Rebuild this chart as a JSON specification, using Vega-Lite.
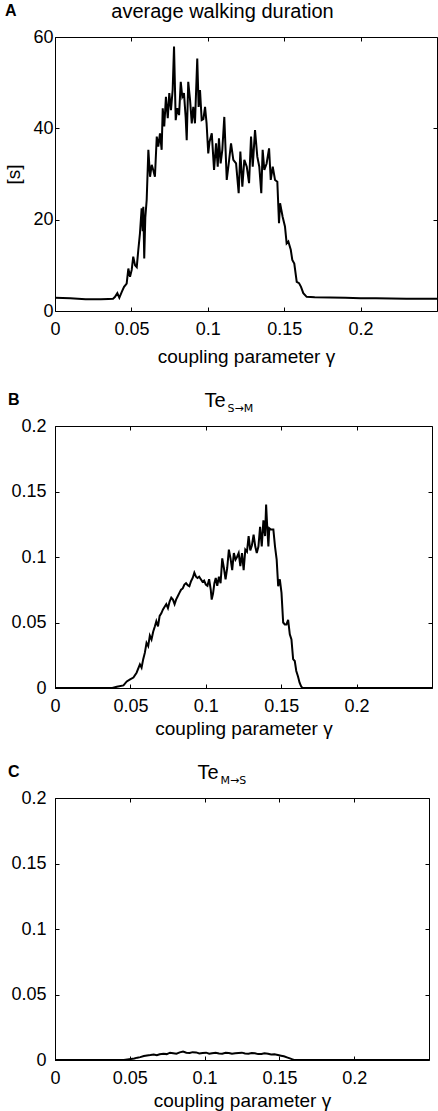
{
  "$schema": "https://vega.github.io/schema/vega-lite/v6.json",
  "padding": {"left": 4, "top": 0, "right": 0, "bottom": 0},
  "columns": 1,
  "align": "none",
  "spacing": 22,
  "datasets": {
    "walk": [
      {"g":0,"v":2.9},{"g":0.005,"v":2.85},{"g":0.01,"v":2.8},{"g":0.015,"v":2.7},{"g":0.02,"v":2.6},{"g":0.025,"v":2.6},{"g":0.03,"v":2.6},{"g":0.035,"v":2.65},{"g":0.038,"v":2.7},
      {"g":0.0393,"v":3.1},{"g":0.0408,"v":3.9},{"g":0.0421,"v":2.9},{"g":0.0437,"v":4.2},{"g":0.0452,"v":5.3},{"g":0.0469,"v":6.0},{"g":0.048,"v":9.3},{"g":0.0491,"v":7.5},{"g":0.0502,"v":9.0},{"g":0.0512,"v":11.9},{"g":0.0524,"v":10.0},{"g":0.0535,"v":9.6},{"g":0.0545,"v":13.3},{"g":0.0556,"v":17.0},{"g":0.0567,"v":22.5},{"g":0.0574,"v":17.5},{"g":0.0578,"v":22.8},{"g":0.0584,"v":11.5},{"g":0.0591,"v":20.5},{"g":0.06,"v":24.3},{"g":0.0611,"v":35.3},{"g":0.0622,"v":29.4},{"g":0.0633,"v":32.0},{"g":0.0643,"v":30.9},{"g":0.0654,"v":29.4},{"g":0.0666,"v":38.2},{"g":0.0676,"v":36.0},{"g":0.0687,"v":38.9},{"g":0.0698,"v":35.3},{"g":0.0705,"v":44.4},{"g":0.0715,"v":40.4},{"g":0.0726,"v":46.9},{"g":0.0738,"v":42.2},{"g":0.0748,"v":47.7},{"g":0.0759,"v":44.0},{"g":0.077,"v":48.4},{"g":0.0779,"v":57.9},{"g":0.079,"v":41.8},{"g":0.08,"v":44.4},{"g":0.0812,"v":42.9},{"g":0.0823,"v":50.2},{"g":0.0833,"v":46.9},{"g":0.0844,"v":47.7},{"g":0.0855,"v":42.5},{"g":0.0862,"v":37.4},{"g":0.0872,"v":50.2},{"g":0.0884,"v":46.2},{"g":0.0895,"v":41.1},{"g":0.0905,"v":44.7},{"g":0.0916,"v":41.1},{"g":0.0931,"v":55.3},{"g":0.094,"v":44.7},{"g":0.0949,"v":48.4},{"g":0.096,"v":41.8},{"g":0.0971,"v":42.0},{"g":0.0982,"v":44.7},{"g":0.0992,"v":41.1},{"g":0.1003,"v":34.5},{"g":0.1011,"v":37.0},{"g":0.1026,"v":38.9},{"g":0.1041,"v":30.9},{"g":0.1054,"v":36.7},{"g":0.1065,"v":31.6},{"g":0.1073,"v":37.8},{"g":0.1084,"v":32.3},{"g":0.1095,"v":35.3},{"g":0.1108,"v":42.5},{"g":0.1124,"v":28.7},{"g":0.1137,"v":32.3},{"g":0.1152,"v":36.7},{"g":0.1167,"v":33.1},{"g":0.1185,"v":32.3},{"g":0.1202,"v":25.8},{"g":0.1213,"v":34.9},{"g":0.1226,"v":27.2},{"g":0.1239,"v":33.1},{"g":0.1255,"v":31.6},{"g":0.127,"v":28.0},{"g":0.1283,"v":38.2},{"g":0.1294,"v":31.6},{"g":0.1309,"v":39.6},{"g":0.1324,"v":33.8},{"g":0.1337,"v":31.6},{"g":0.135,"v":25.8},{"g":0.1359,"v":35.3},{"g":0.137,"v":30.9},{"g":0.1385,"v":32.3},{"g":0.1401,"v":35.6},{"g":0.1412,"v":28.7},{"g":0.1425,"v":31.6},{"g":0.144,"v":28.7},{"g":0.1455,"v":28.3},{"g":0.1466,"v":19.2},{"g":0.1473,"v":23.6},{"g":0.149,"v":20.6},{"g":0.1505,"v":18.5},{"g":0.1516,"v":14.8},{"g":0.1527,"v":15.2},{"g":0.1543,"v":13.4},{"g":0.1553,"v":11.2},{"g":0.1566,"v":10.4},{"g":0.1582,"v":6.4},{"g":0.1597,"v":6.1},{"g":0.161,"v":5.3},{"g":0.1625,"v":3.9},{"g":0.1647,"v":3.1},
      {"g":0.17,"v":3.0},{"g":0.18,"v":2.95},{"g":0.19,"v":2.9},{"g":0.2,"v":2.8},{"g":0.21,"v":2.8},{"g":0.22,"v":2.75},{"g":0.23,"v":2.7},{"g":0.24,"v":2.7},{"g":0.25,"v":2.7}
    ],
    "sm": [
      {"g":0,"v":0},{"g":0.038,"v":0},{"g":0.041,"v":0.001},{"g":0.0454,"v":0.002},{"g":0.0476,"v":0.005},{"g":0.0498,"v":0.0066},{"g":0.052,"v":0.008},{"g":0.0541,"v":0.0117},{"g":0.0563,"v":0.018},{"g":0.0574,"v":0.0155},{"g":0.0585,"v":0.022},{"g":0.0596,"v":0.027},{"g":0.0607,"v":0.0345},{"g":0.0618,"v":0.032},{"g":0.0629,"v":0.04},{"g":0.064,"v":0.037},{"g":0.0651,"v":0.043},{"g":0.0662,"v":0.047},{"g":0.0672,"v":0.051},{"g":0.0683,"v":0.047},{"g":0.0694,"v":0.055},{"g":0.0705,"v":0.057},{"g":0.0716,"v":0.06},{"g":0.0727,"v":0.062},{"g":0.0738,"v":0.064},{"g":0.0749,"v":0.061},{"g":0.076,"v":0.066},{"g":0.0771,"v":0.069},{"g":0.0782,"v":0.0675},{"g":0.0793,"v":0.064},{"g":0.0803,"v":0.0675},{"g":0.0814,"v":0.07},{"g":0.0825,"v":0.0726},{"g":0.0836,"v":0.075},{"g":0.0847,"v":0.076},{"g":0.0858,"v":0.079},{"g":0.0869,"v":0.08},{"g":0.088,"v":0.0785},{"g":0.0891,"v":0.0777},{"g":0.0902,"v":0.0815},{"g":0.0913,"v":0.084},{"g":0.0924,"v":0.088},{"g":0.0935,"v":0.085},{"g":0.0945,"v":0.084},{"g":0.0956,"v":0.085},{"g":0.0967,"v":0.083},{"g":0.0978,"v":0.081},{"g":0.0989,"v":0.082},{"g":0.1,"v":0.079},{"g":0.1011,"v":0.078},{"g":0.1022,"v":0.083},{"g":0.1033,"v":0.075},{"g":0.1039,"v":0.0675},{"g":0.1048,"v":0.072},{"g":0.1057,"v":0.08},{"g":0.1066,"v":0.084},{"g":0.1076,"v":0.078},{"g":0.1087,"v":0.085},{"g":0.1098,"v":0.08},{"g":0.1109,"v":0.099},{"g":0.112,"v":0.0916},{"g":0.1131,"v":0.083},{"g":0.1142,"v":0.0916},{"g":0.1153,"v":0.1056},{"g":0.1164,"v":0.099},{"g":0.1175,"v":0.09},{"g":0.1186,"v":0.103},{"g":0.1197,"v":0.098},{"g":0.1207,"v":0.1},{"g":0.1218,"v":0.103},{"g":0.1229,"v":0.093},{"g":0.124,"v":0.103},{"g":0.1251,"v":0.09},{"g":0.1262,"v":0.1056},{"g":0.1273,"v":0.104},{"g":0.1284,"v":0.116},{"g":0.1295,"v":0.105},{"g":0.1306,"v":0.109},{"g":0.1317,"v":0.117},{"g":0.1328,"v":0.108},{"g":0.1338,"v":0.103},{"g":0.1349,"v":0.108},{"g":0.136,"v":0.123},{"g":0.1371,"v":0.108},{"g":0.1382,"v":0.128},{"g":0.1393,"v":0.116},{"g":0.14,"v":0.14},{"g":0.1406,"v":0.126},{"g":0.1415,"v":0.108},{"g":0.1421,"v":0.122},{"g":0.1432,"v":0.121},{"g":0.1448,"v":0.121},{"g":0.1459,"v":0.108},{"g":0.147,"v":0.098},{"g":0.148,"v":0.0777},{"g":0.1491,"v":0.083},{"g":0.1502,"v":0.0726},{"g":0.1513,"v":0.05},{"g":0.1524,"v":0.0485},{"g":0.1535,"v":0.0485},{"g":0.1546,"v":0.052},{"g":0.1557,"v":0.041},{"g":0.1568,"v":0.037},{"g":0.1579,"v":0.022},{"g":0.159,"v":0.0206},{"g":0.16,"v":0.013},{"g":0.1611,"v":0.009},{"g":0.1622,"v":0.004},{"g":0.1633,"v":0.001},{"g":0.1644,"v":0},{"g":0.25,"v":0}
    ],
    "ms": [
      {"g":0,"v":0},{"g":0.046,"v":0},{"g":0.0507,"v":0.0008},{"g":0.053,"v":0.0012},{"g":0.055,"v":0.0018},{"g":0.057,"v":0.0022},{"g":0.0594,"v":0.003},{"g":0.0615,"v":0.0035},{"g":0.0638,"v":0.0038},{"g":0.066,"v":0.0042},{"g":0.0681,"v":0.0036},{"g":0.07,"v":0.0044},{"g":0.0725,"v":0.0048},{"g":0.0747,"v":0.0045},{"g":0.0769,"v":0.0056},{"g":0.079,"v":0.0052},{"g":0.0812,"v":0.0048},{"g":0.0834,"v":0.0058},{"g":0.0856,"v":0.0064},{"g":0.0878,"v":0.0055},{"g":0.09,"v":0.0053},{"g":0.092,"v":0.006},{"g":0.0943,"v":0.0058},{"g":0.0965,"v":0.005},{"g":0.0987,"v":0.0053},{"g":0.101,"v":0.0056},{"g":0.1031,"v":0.0048},{"g":0.105,"v":0.0052},{"g":0.1074,"v":0.0056},{"g":0.1096,"v":0.0049},{"g":0.1118,"v":0.0048},{"g":0.114,"v":0.0055},{"g":0.1162,"v":0.0053},{"g":0.1183,"v":0.0047},{"g":0.1205,"v":0.0051},{"g":0.1227,"v":0.0054},{"g":0.1249,"v":0.0056},{"g":0.127,"v":0.0049},{"g":0.1293,"v":0.0048},{"g":0.1315,"v":0.0053},{"g":0.1336,"v":0.0051},{"g":0.1358,"v":0.0045},{"g":0.138,"v":0.0046},{"g":0.14,"v":0.0051},{"g":0.1424,"v":0.0048},{"g":0.1445,"v":0.0042},{"g":0.1467,"v":0.0043},{"g":0.149,"v":0.0038},{"g":0.1511,"v":0.0033},{"g":0.153,"v":0.0028},{"g":0.1555,"v":0.0018},{"g":0.157,"v":0.0012},{"g":0.1587,"v":0.0005},{"g":0.1598,"v":0},{"g":0.25,"v":0}
    ]
  },
  "concat": [
    {
      "width": 382, "height": 274,
      "title": {"text": "A", "anchor": "start", "frame": "bounds", "dy": 22},
      "layer": [
        {
          "data": {"name": "walk"},
          "mark": {"type": "line", "color": "#000", "strokeWidth": 2},
          "encoding": {
            "x": {"field": "g", "type": "quantitative", "scale": {"domain": [0, 0.25], "nice": false, "zero": false},
                  "axis": {"orient": "bottom", "values": [0, 0.05, 0.1, 0.15, 0.2], "format": "~g", "title": "coupling parameter γ", "titlePadding": 9}},
            "y": {"field": "v", "type": "quantitative", "scale": {"domain": [0, 60], "nice": false},
                  "axis": {"orient": "left", "values": [0, 20, 40, 60], "title": "[s]", "labelPadding": 6, "titlePadding": 9}}
          }
        },
        {
          "data": {"name": "walk"},
          "mark": {"type": "line", "color": "#000", "strokeOpacity": 0},
          "encoding": {
            "x": {"field": "g", "type": "quantitative", "scale": {"domain": [0, 0.25], "nice": false, "zero": false},
                  "axis": {"orient": "top", "labels": false, "values": [0, 0.05, 0.1, 0.15, 0.2], "title": "average walking duration",
                           "titleX": 167, "titleY": -20, "titleAlign": "center", "titleBaseline": "alphabetic", "titleFontSize": 20}},
            "y": {"field": "v", "type": "quantitative", "scale": {"domain": [0, 60], "nice": false},
                  "axis": {"orient": "right", "labels": false, "values": [0, 20, 40, 60], "title": null}}
          }
        }
      ],
      "resolve": {"axis": {"x": "independent", "y": "independent"}}
    },
    {
      "width": 377, "height": 262,
      "title": {"text": "B", "anchor": "start", "frame": "bounds", "dy": 22, "dx": -3},
      "layer": [
        {
          "data": {"name": "sm"},
          "mark": {"type": "line", "color": "#000", "strokeWidth": 2},
          "encoding": {
            "x": {"field": "g", "type": "quantitative", "scale": {"domain": [0, 0.25], "nice": false, "zero": false},
                  "axis": {"orient": "bottom", "values": [0, 0.05, 0.1, 0.15, 0.2], "format": "~g", "title": "coupling parameter γ", "titlePadding": 4}},
            "y": {"field": "v", "type": "quantitative", "scale": {"domain": [0, 0.2], "nice": false},
                  "axis": {"orient": "left", "values": [0, 0.05, 0.1, 0.15, 0.2], "format": "~g", "title": null, "labelPadding": 13}}
          }
        },
        {
          "data": {"name": "sm"},
          "mark": {"type": "line", "color": "#000", "strokeOpacity": 0},
          "encoding": {
            "x": {"field": "g", "type": "quantitative", "scale": {"domain": [0, 0.25], "nice": false, "zero": false},
                  "axis": {"orient": "top", "labels": false, "values": [0, 0.05, 0.1, 0.15, 0.2], "title": "Te",
                           "titleX": 149, "titleY": -20, "titleAlign": "left", "titleBaseline": "alphabetic", "titleFontSize": 20}},
            "y": {"field": "v", "type": "quantitative", "scale": {"domain": [0, 0.2], "nice": false},
                  "axis": {"orient": "right", "labels": false, "values": [0, 0.05, 0.1, 0.15, 0.2], "title": "S→M",
                           "titleAngle": 0, "titleX": -205, "titleY": -15, "titleAlign": "left", "titleBaseline": "alphabetic", "titleFontSize": 11, "titleFont": "DejaVu Sans"}}
          }
        }
      ],
      "resolve": {"axis": {"x": "independent", "y": "independent"}}
    },
    {
      "width": 374, "height": 262,
      "title": {"text": "C", "anchor": "start", "frame": "bounds", "dy": 22, "dx": -3},
      "layer": [
        {
          "data": {"name": "ms"},
          "mark": {"type": "line", "color": "#000", "strokeWidth": 2},
          "encoding": {
            "x": {"field": "g", "type": "quantitative", "scale": {"domain": [0, 0.25], "nice": false, "zero": false},
                  "axis": {"orient": "bottom", "values": [0, 0.05, 0.1, 0.15, 0.2], "format": "~g", "title": "coupling parameter γ", "titlePadding": 4}},
            "y": {"field": "v", "type": "quantitative", "scale": {"domain": [0, 0.2], "nice": false},
                  "axis": {"orient": "left", "values": [0, 0.05, 0.1, 0.15, 0.2], "format": "~g", "title": null, "labelPadding": 13}}
          }
        },
        {
          "data": {"name": "ms"},
          "mark": {"type": "line", "color": "#000", "strokeOpacity": 0},
          "encoding": {
            "x": {"field": "g", "type": "quantitative", "scale": {"domain": [0, 0.25], "nice": false, "zero": false},
                  "axis": {"orient": "top", "labels": false, "values": [0, 0.05, 0.1, 0.15, 0.2], "title": "Te",
                           "titleX": 142, "titleY": -20, "titleAlign": "left", "titleBaseline": "alphabetic", "titleFontSize": 20}},
            "y": {"field": "v", "type": "quantitative", "scale": {"domain": [0, 0.2], "nice": false},
                  "axis": {"orient": "right", "labels": false, "values": [0, 0.05, 0.1, 0.15, 0.2], "title": "M→S",
                           "titleAngle": 0, "titleX": -209, "titleY": -15, "titleAlign": "left", "titleBaseline": "alphabetic", "titleFontSize": 11, "titleFont": "DejaVu Sans"}}
          }
        }
      ],
      "resolve": {"axis": {"x": "independent", "y": "independent"}}
    }
  ],
  "config": {
    "font": "Liberation Sans",
    "background": "#ffffff",
    "view": {"stroke": "#000", "strokeWidth": 1},
    "axis": {
      "domain": false, "grid": false,
      "tickColor": "#000", "tickSize": -4, "tickWidth": 1,
      "labelFontSize": 18, "labelColor": "#000", "labelPadding": 13, "labelFlush": false, "labelOverlap": false,
      "titleColor": "#000", "titleFontSize": 19, "titleFontWeight": "normal", "titlePadding": 2
    },
    "title": {"fontSize": 16, "fontWeight": "bold", "color": "#000", "font": "Liberation Sans", "offset": 0}
  }
}
